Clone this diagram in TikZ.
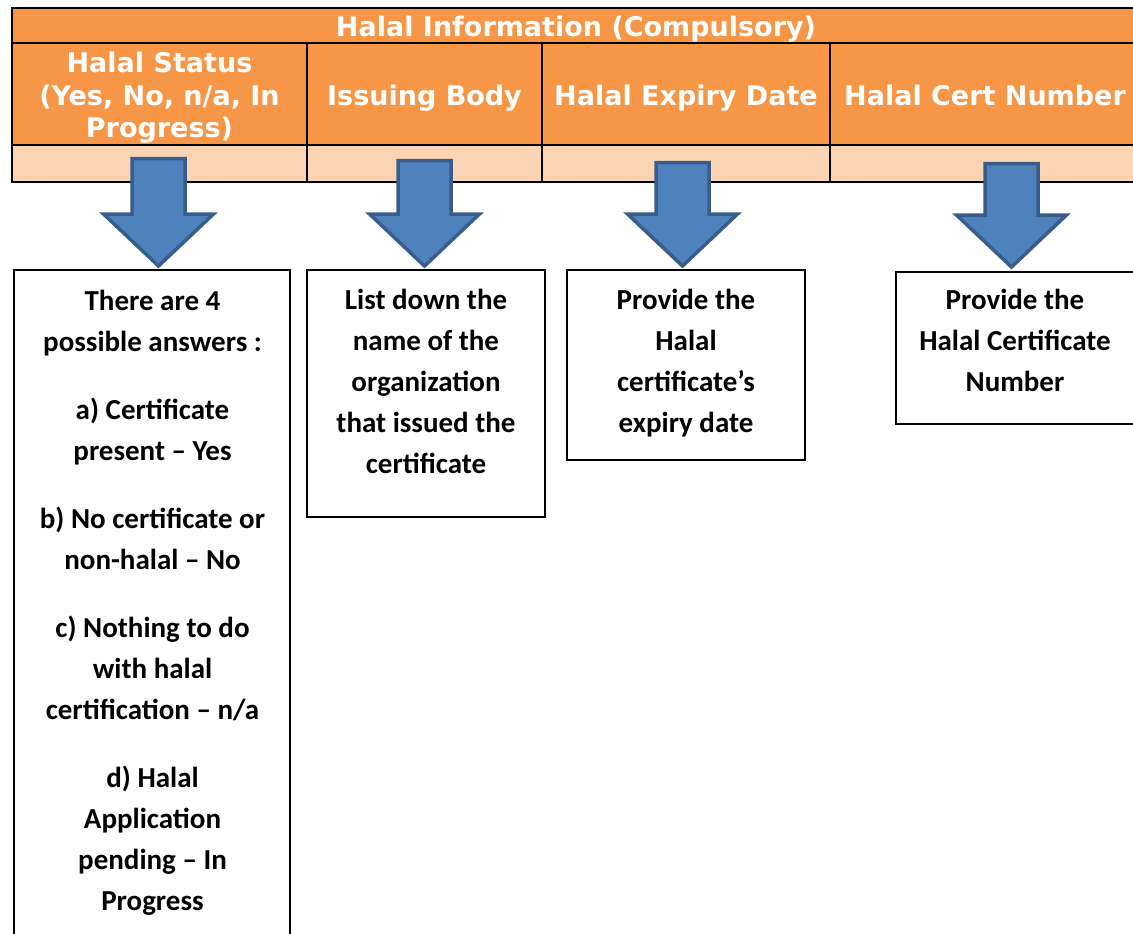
\documentclass[tikz,border=0pt]{standalone}
\usepackage{fontspec}
\newfontfamily\hdrfont{DejaVu Sans}
\newfontfamily\bodyfont{Carlito}
\definecolor{hdrorange}{HTML}{F79646}
\definecolor{cellpeach}{HTML}{FBD4B4}
\definecolor{arrowfill}{HTML}{4F81BD}
\definecolor{arrowline}{HTML}{385D8A}
\tikzset{
  cell/.style={draw=black, line width=2pt, inner sep=0pt, outer sep=0pt, anchor=north west},
  hdrcell/.style={cell, fill=hdrorange},
  datacell/.style={cell, fill=cellpeach},
  hdrtext/.style={text=white, font=\hdrfont\bfseries\fontsize{27}{32.5}\selectfont, align=center, inner sep=0pt, anchor=base},
  infobox/.style={draw=black, line width=2pt, fill=white, inner sep=0pt, outer sep=0pt, anchor=north west},
  infotext/.style={font=\bodyfont\bfseries\fontsize{29}{41}\selectfont, align=center, inner sep=0pt, anchor=base},
  blockarrow/.style={fill=arrowfill, draw=arrowline, line width=3.5pt, line join=miter},
}
\newcommand{\hdrarrow}[2]{%
  \draw[blockarrow] (#1) -- ++(-55,-52) -- ++(28.5,0) -- ++(0,-#2) -- ++(53,0) -- ++(0,#2) -- ++(28.5,0) -- cycle;}
\begin{document}
\begin{tikzpicture}[x=1pt,y=-1pt]
\useasboundingbox (0,0) rectangle (1133,934);
% table
\node[hdrcell, minimum width=1128, minimum height=35] (title) at (12,8) {};
\node[hdrcell, minimum width=295, minimum height=102] (h1) at (12,43) {};
\node[hdrcell, minimum width=235, minimum height=102] (h2) at (307,43) {};
\node[hdrcell, minimum width=288, minimum height=102] (h3) at (542,43) {};
\node[hdrcell, minimum width=310, minimum height=102] (h4) at (830,43) {};
\node[datacell, minimum width=295, minimum height=37] (d1) at (12,145) {};
\node[datacell, minimum width=235, minimum height=37] (d2) at (307,145) {};
\node[datacell, minimum width=288, minimum height=37] (d3) at (542,145) {};
\node[datacell, minimum width=310, minimum height=37] (d4) at (830,145) {};
% header texts (anchor = baseline of last line)
\node[hdrtext] (titletext) at (576,36.5) {Halal Information (Compulsory)};
\node[hdrtext] (h1text) at (159.5,137.5) {Halal Status\\(Yes, No, n/a, In\\Progress)};
\node[hdrtext] (h2text) at (424.5,106) {Issuing Body};
\node[hdrtext] (h3text) at (686,105) {Halal Expiry Date};
\node[hdrtext] (h4text) at (985,105) {Halal Cert Number};
% info boxes
\node[infobox, minimum width=276, minimum height=700] (b1) at (14,270) {};
\node[infobox, minimum width=238, minimum height=247] (b2) at (307,270) {};
\node[infobox, minimum width=238, minimum height=190] (b3) at (567,270) {};
\node[infobox, minimum width=242, minimum height=152] (b4) at (896,272) {};
\node[infotext] (b1text) at (152.5,910) {There are 4\\possible answers :\\[27pt]a) Certificate\\present – Yes\\[27pt]b) No certificate or\\non-halal – No\\[27pt]c) Nothing to do\\with halal\\certification – n/a\\[27pt]d) Halal\\Application\\pending – In\\Progress};
\node[infotext] (b2text) at (426,473) {List down the\\name of the\\organization\\that issued the\\certificate};
\node[infotext] (b3text) at (686,432) {Provide the\\Halal\\certificate’s\\expiry date};
\node[infotext] (b4text) at (1015,391) {Provide the\\Halal Certificate\\Number};
% arrows
\coordinate (t1) at (158.5,266);
\coordinate (t2) at (424.5,266);
\coordinate (t3) at (682.5,266);
\coordinate (t4) at (1011.5,267);
\hdrarrow{t1}{55.5}
\hdrarrow{t2}{53.5}
\hdrarrow{t3}{51.5}
\hdrarrow{t4}{51.5}
\end{tikzpicture}
\end{document}
